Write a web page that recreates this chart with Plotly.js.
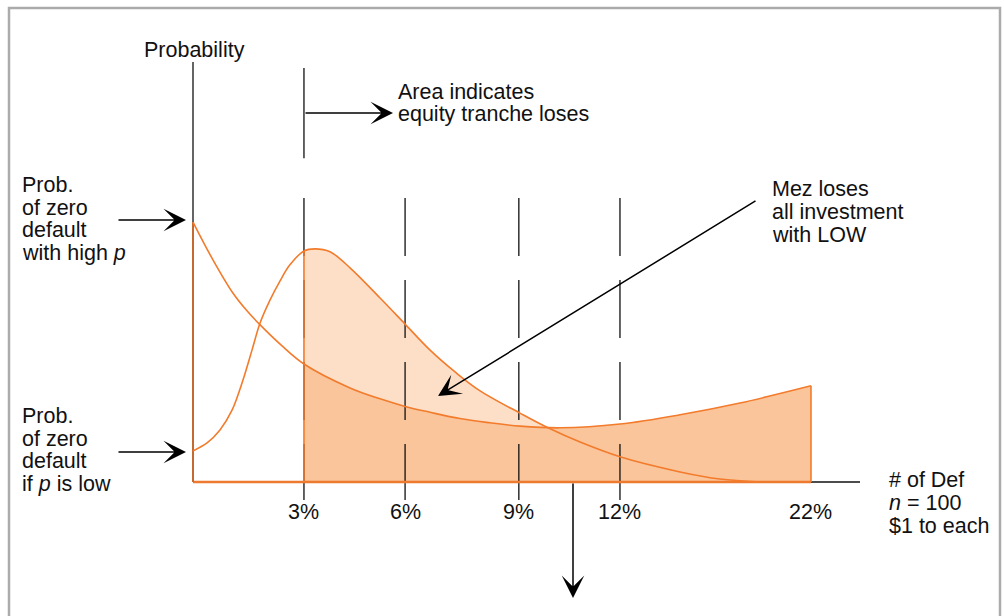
<!DOCTYPE html>
<html><head><meta charset="utf-8">
<script src="https://cdn.plot.ly/plotly-3.0.1.min.js"></script>
<style>html,body{margin:0;padding:0;background:#fff;}#chart{width:1004px;height:616px;}</style>
</head><body><div id="chart"></div>
<script>
// x: sketch units (0 = origin, 22 = "22%" mark); y: relative probability units
const highP_x = [0, 0.71, 1.42, 1.89, 2.39, 3.17, 3.95, 5.59, 6.66, 7.55, 8.44, 9.5, 10.57, 11.64, 13.07, 15.2, 17.34, 19.47, 22];
const highP_y = [61.9, 52.9, 45.0, 41.0, 37.4, 32.4, 28.1, 22.4, 19.8, 18.0, 16.6, 15.1, 14.1, 13.3, 12.9, 13.8, 16.0, 18.8, 22.9];
const lowP_x = [0, 0.5, 0.96, 1.39, 1.78, 2.1, 2.39, 2.74, 3.1, 3.45, 3.95, 4.34, 4.88, 5.59, 6.66, 7.55, 8.44, 9.33, 10.22, 11.64, 12.64, 13.78, 15.2, 17.34, 18.76, 20.19];
const lowP_y = [7.4, 9.3, 12.4, 17.1, 24.3, 31.4, 37.9, 43.3, 47.9, 51.7, 55.0, 55.5, 54.8, 51.0, 43.8, 37.6, 31.4, 26.2, 21.7, 16.4, 12.9, 9.5, 6.0, 2.4, 0.7, 0];
const tickAt = [3.95, 7.55, 11.6, 15.2, 22];
const tickText = ['3%', '6%', '9%', '12%', '22%'];
const dashedAt = [3.95, 7.55, 11.6, 15.2];
const fillStart = 3.95;
const axisTop = 100, axisRight = 23.745;

const W = 1004, H = 616;
const ORANGE = '#F27B2C';
const FONT = 'Liberation Sans, Arial, Helvetica, sans-serif';
const FS = 21.5;

function seg(x, y, color, width, dash) {
  return {x: x, y: y, type: 'scatter', mode: 'lines', hoverinfo: 'skip', showlegend: false,
    line: {color: color, width: width, dash: dash || 'solid'}};
}
function curve(x, y, extra) {
  return Object.assign({x: x, y: y, type: 'scatter', mode: 'lines', hoverinfo: 'skip', showlegend: false,
    line: {color: ORANGE, width: 1.6, shape: 'spline', smoothing: 1}}, extra || {});
}
const highEnd = highP_x.length - 1;
const lowAtStart = lowP_y[lowP_x.indexOf(fillStart)];

const traces = [];
// shaded areas under both curves
traces.push(curve(lowP_x, lowP_y, {fill: 'tozeroy', fillcolor: '#FDDFC8', line: {width: 0, shape: 'spline', color: ORANGE}}));
traces.push(curve(highP_x, highP_y, {fill: 'tozeroy', fillcolor: '#FAC59A', line: {width: 0, shape: 'spline', color: ORANGE}}));
// only the part right of the 3% threshold is shaded
traces.push({x: [0, fillStart, fillStart, 0], y: [0, 0, 70, 70], type: 'scatter', mode: 'none', fill: 'toself',
  fillcolor: '#FFFFFF', hoverinfo: 'skip', showlegend: false});
dashedAt.forEach(x => traces.push(seg([x, x], [67.6, -4.3], '#111', 1.3, '58px,24px')));
traces.push(seg([tickAt[0], tickAt[0]], [98.6, 77.1], '#111', 1.3));
traces.push(seg([0, 0], [axisTop, 0], '#111', 1.3));
traces.push(seg([0, axisRight], [0, 0], '#111', 1.3));
traces.push(seg([0, highP_x[highEnd]], [0, 0], '#EE7A30', 2.6));
traces.push(seg([0, 0], [0, highP_y[0]], '#C4692F', 2));
traces.push(seg([fillStart, fillStart], [0, lowAtStart], ORANGE, 1.6));
traces.push(seg([highP_x[highEnd], highP_x[highEnd]], [0, highP_y[highEnd]], ORANGE, 1.6));
traces.push(curve(highP_x, highP_y));
traces.push(curve(lowP_x, lowP_y));

function txt(t, px, py, anchor) {
  return {text: t, xref: 'paper', yref: 'paper', x: (px - 3) / W, y: 1 - py / H, xanchor: anchor || 'left', yanchor: 'middle',
    showarrow: false, font: {family: FONT, size: FS, color: '#111'}};
}
function arr(tipx, tipy, tailx, taily) {
  return {text: '', xref: 'paper', yref: 'paper', x: tipx / W, y: 1 - tipy / H, ax: tailx - tipx, ay: taily - tipy,
    axref: 'pixel', ayref: 'pixel', showarrow: true, arrowhead: 3, arrowsize: 2.5, arrowwidth: 1.5, arrowcolor: '#000'};
}

const ann = [
  txt('Probability', 145, 50),
  txt('Area indicates', 399, 92), txt('equity tranche loses', 399, 114),
  txt('Mez loses', 773, 189), txt('all investment', 773, 212), txt('with LOW', 773, 235),
  txt('Prob.', 23, 185), txt('of zero', 23, 208), txt('default', 23, 230), txt('with high <i>p</i>', 23, 253),
  txt('Prob.', 23, 416), txt('of zero', 23, 439), txt('default', 23, 461), txt('if <i>p</i> is low', 23, 484),
  txt('# of Def', 890, 480), txt('<i>n</i> = 100', 890, 503), txt('$1 to each', 890, 526),
  arr(393, 113, 304, 113),
  arr(186, 220, 117, 220),
  arr(186, 452, 117, 452),
  arr(438, 396, 757, 200),
  arr(573, 598, 573, 482)
];
tickAt.forEach((x, i) => ann.push({text: tickText[i], xref: 'x', yref: 'paper', x: x, y: 1 - 512 / H,
  xanchor: 'center', yanchor: 'middle', showarrow: false, font: {family: FONT, size: FS, color: '#111'}}));

const layout = {
  width: W, height: H, margin: {l: 0, r: 0, t: 0, b: 0, pad: 0},
  paper_bgcolor: '#fff', plot_bgcolor: '#fff', showlegend: false,
  xaxis: {range: [-193 / 28.09, (W - 193) / 28.09], visible: false, fixedrange: true},
  yaxis: {range: [(482 - H) / 4.2, 482 / 4.2], visible: false, fixedrange: true},
  shapes: [{type: 'rect', xref: 'paper', yref: 'paper', x0: 9 / W, x1: 1000 / W, y0: -0.05, y1: 1 - 8 / H,
    line: {color: '#ABABAB', width: 2.5}, fillcolor: 'rgba(0,0,0,0)'}],
  annotations: ann
};
Plotly.newPlot('chart', traces, layout, {displayModeBar: false, staticPlot: true});
</script></body></html>
